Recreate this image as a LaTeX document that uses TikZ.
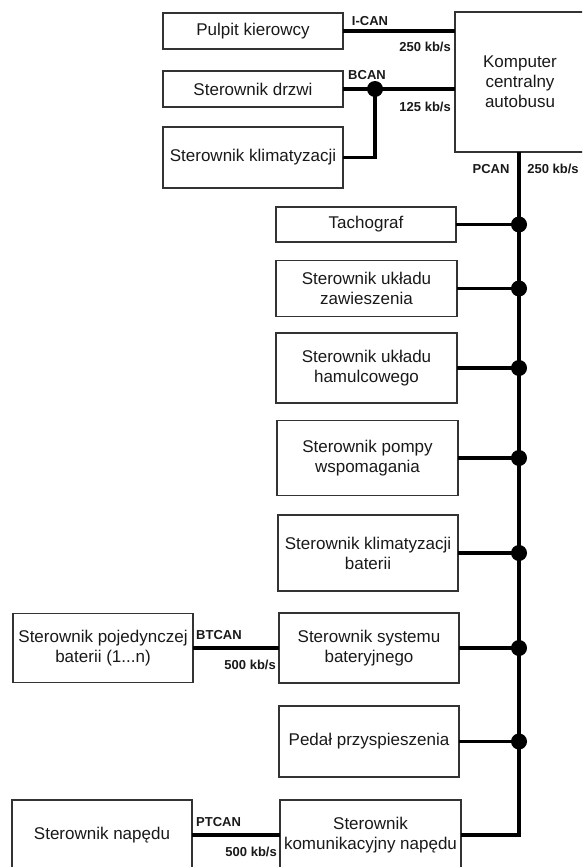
\documentclass[tikz,border=0pt]{standalone}
\usepackage{fontspec}
\setmainfont{Liberation Sans}
\begin{document}
\begin{tikzpicture}[x=1pt,y=-1pt,
  box/.style={draw=black!80,line width=1.2pt,inner sep=0pt,outer sep=0pt,
    align=center,font=\fontsize{17}{20}\selectfont,text=black!90},
  lbl/.style={inner sep=0pt,font=\fontsize{13}{15}\selectfont\bfseries,text=black!90},
  bus/.style={line width=3.6pt,line cap=butt},
  dot/.style={fill=black}]
\useasboundingbox (0,0) rectangle (582,867);
\clip (0,0) rectangle (582,867);
\coordinate (b) at (519,0);
% top group
\node[box,minimum width=180pt,minimum height=36pt] (pulpit) at (253,31) {Pulpit kierowcy};
\node[box,minimum width=180pt,minimum height=36pt] (drzwi) at (253,89) {Sterownik drzwi};
\node[box,minimum width=180pt,minimum height=61pt] (klim) at (253,157.5) {Sterownik klimatyzacji};
\node[box,minimum width=130pt,minimum height=140pt] (komp) at (520,82) {Komputer\\centralny\\autobusu};
% right column
\node[box,minimum width=180pt,minimum height=35pt] (tach) at (366,224.5) {Tachograf};
\node[box,minimum width=181pt,minimum height=56pt] (zaw) at (366.5,288.5) {Sterownik układu\\zawieszenia};
\node[box,minimum width=181pt,minimum height=70pt] (ham) at (366.5,368) {Sterownik układu\\hamulcowego};
\node[box,minimum width=181pt,minimum height=75pt] (pomp) at (367.5,458) {Sterownik pompy\\wspomagania};
\node[box,minimum width=180pt,minimum height=76pt] (klbat) at (368,553) {Sterownik klimatyzacji\\baterii};
\node[box,minimum width=180pt,minimum height=70pt] (sysbat) at (369,648) {Sterownik systemu\\bateryjnego};
\node[box,minimum width=180pt,minimum height=71pt] (pedal) at (369,741.5) {Pedał przyspieszenia};
\node[box,minimum width=181pt,minimum height=70pt] (komun) at (370.5,835) {Sterownik\\komunikacyjny napędu};
% left column
\node[box,minimum width=180pt,minimum height=69pt] (poj) at (103,648) {Sterownik pojedynczej\\baterii (1...n)};
\node[box,minimum width=180pt,minimum height=70pt] (nap) at (102,835) {Sterownik napędu};
% I-CAN
\draw[bus] (pulpit.east) -- (pulpit.east -| komp.west);
\node[lbl] (ican) at (370,21) {I-CAN};
\node[lbl,anchor=east] (ican250) at (451,47) {250 kb/s};
% BCAN
\coordinate (bj) at (375,89);
\draw[bus] (drzwi.east) -- (drzwi.east -| komp.west);
\draw[bus] (bj) -- (bj |- klim.east) -- (klim.east);
\fill[dot] (bj) circle (8pt);
\node[lbl] (bcan) at (367,75) {BCAN};
\node[lbl,anchor=east] (bcan125) at (451,107) {125 kb/s};
% PCAN bus
\draw[bus] (komp.south -| b) -- (komun.east -| b) -- (komun.east);
\node[lbl] (pcan) at (491,169) {PCAN};
\node[lbl] (pcan250) at (553,169) {250 kb/s};
\foreach \n in {tach,zaw,ham,pomp,klbat,sysbat,pedal}{
  \draw[bus] (\n.east) -- (\n.east -| b);
  \fill[dot] (\n.east -| b) circle (8pt);
}
% BTCAN
\draw[bus] (poj.east) -- (sysbat.west);
\node[lbl,anchor=west] (btcan) at (196,635) {BTCAN};
\node[lbl,anchor=east] (bt500) at (276,665) {500 kb/s};
% PTCAN
\draw[bus] (nap.east) -- (komun.west);
\node[lbl,anchor=west] (ptcan) at (196,822) {PTCAN};
\node[lbl,anchor=east] (pt500) at (277,852) {500 kb/s};
\end{tikzpicture}
\end{document}
